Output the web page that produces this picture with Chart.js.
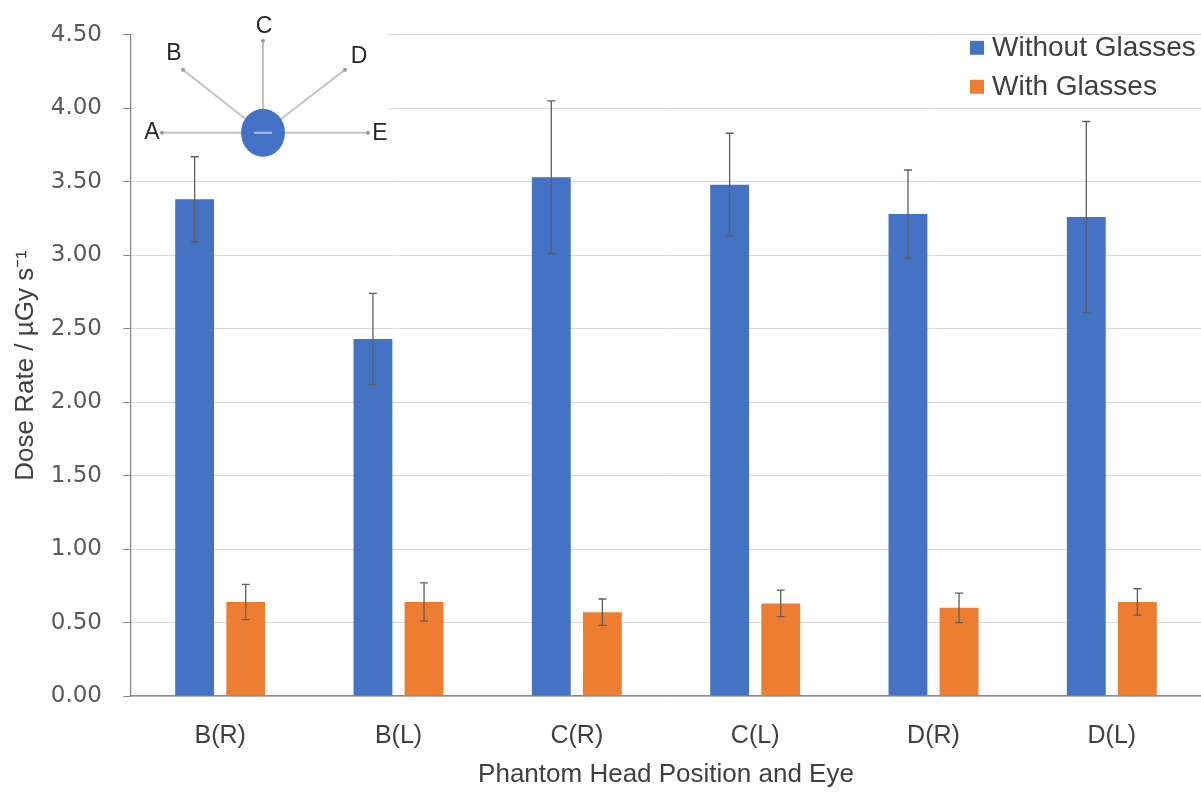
<!DOCTYPE html>
<html>
<head>
<meta charset="utf-8">
<script src="https://cdn.jsdelivr.net/npm/chart.js@4.4.1/dist/chart.umd.min.js"></script>
<style>
  html, body { margin: 0; padding: 0; background: #fff; }
</style>
</head>
<body>
<canvas id="chart" width="1201" height="793"></canvas>
<script>
// categories and readings (dose rate, uGy/s)
const positions = ['B(R)', 'B(L)', 'C(R)', 'C(L)', 'D(R)', 'D(L)'];
const withoutGlasses = [3.38, 2.43, 3.53, 3.48, 3.28, 3.26];
const withoutGlassesErr = [0.29, 0.31, 0.52, 0.35, 0.30, 0.65];
const withGlasses = [0.64, 0.64, 0.57, 0.63, 0.60, 0.64];
const withGlassesErr = [0.12, 0.13, 0.09, 0.09, 0.10, 0.09];
const yTicks = [0, 0.5, 1, 1.5, 2, 2.5, 3, 3.5, 4, 4.5];

const BLUE = '#4472C4';
const ORANGE = '#ED7D31';

// error bars drawn on top of each bar
const errorBars = {
    id: 'errorBars',
    afterDatasetsDraw(chart) {
        const ctx = chart.ctx;
        const y = chart.scales.y;
        ctx.save();
        ctx.strokeStyle = '#5f5f5f';
        ctx.lineWidth = 1.3;
        chart.data.datasets.forEach((ds, di) => {
            const meta = chart.getDatasetMeta(di);
            meta.data.forEach((bar, i) => {
                const v = ds.data[i], e = ds.errors[i];
                const top = y.getPixelForValue(v + e);
                const bot = y.getPixelForValue(v - e);
                ctx.beginPath();
                ctx.moveTo(bar.x, top); ctx.lineTo(bar.x, bot);
                ctx.moveTo(bar.x - 4, top); ctx.lineTo(bar.x + 4, top);
                ctx.moveTo(bar.x - 4, bot); ctx.lineTo(bar.x + 4, bot);
                ctx.stroke();
            });
        });
        ctx.restore();
    }
};

// legend stacked in the top right corner of the plot
const cornerLegend = {
    id: 'cornerLegend',
    afterDraw(chart) {
        const ctx = chart.ctx;
        const x = chart.chartArea.right - 231;
        ctx.save();
        ctx.font = '28px "Liberation Sans"';
        ctx.textBaseline = 'middle';
        chart.data.datasets.forEach((ds, i) => {
            const cy = chart.chartArea.top + 13 + i * 39;
            ctx.fillStyle = ds.backgroundColor;
            ctx.fillRect(x, cy - 7, 14, 14);
            ctx.fillStyle = '#404040';
            ctx.fillText(ds.label, x + 22, cy);
        });
        ctx.restore();
    }
};

// small head-position diagram in the top left corner
const headInset = {
    id: 'headInset',
    beforeDatasetsDraw(chart) {
        const ctx = chart.ctx;
        const ox = chart.chartArea.left, oy = chart.chartArea.top;
        const cx = ox + 132, cy = oy + 98;
        const spokes = [
            { name: 'A', dx: -101, dy: 0, lx: -111, ly: 0 },
            { name: 'B', dx: -80, dy: -63, lx: -89, ly: -79 },
            { name: 'C', dx: 0, dy: -92, lx: 1, ly: -106 },
            { name: 'D', dx: 82, dy: -63, lx: 96, ly: -76 },
            { name: 'E', dx: 105, dy: 0, lx: 117, ly: 1 }
        ];
        ctx.save();
        ctx.fillStyle = '#fff';
        ctx.fillRect(ox + 3, 0, 254, oy + 132);
        ctx.strokeStyle = '#c4c4c4';
        ctx.lineWidth = 2;
        spokes.forEach(s => {
            ctx.beginPath();
            ctx.moveTo(cx, cy);
            ctx.lineTo(cx + s.dx, cy + s.dy);
            ctx.stroke();
            ctx.fillStyle = '#9a9a9a';
            ctx.beginPath();
            ctx.arc(cx + s.dx, cy + s.dy, 2, 0, Math.PI * 2);
            ctx.fill();
        });
        ctx.fillStyle = BLUE;
        ctx.beginPath();
        ctx.ellipse(cx, cy, 22, 24, 0, 0, Math.PI * 2);
        ctx.fill();
        ctx.fillStyle = '#a8bde6';
        ctx.fillRect(cx - 9, cy - 1, 18, 2);
        ctx.fillStyle = '#262626';
        ctx.font = '23px "Liberation Sans"';
        ctx.textAlign = 'center';
        ctx.textBaseline = 'middle';
        spokes.forEach(s => ctx.fillText(s.name, cx + s.lx, cy + s.ly));
        ctx.restore();
    }
};

new Chart(document.getElementById('chart'), {
    type: 'bar',
    data: {
        labels: positions,
        datasets: [{
            label: 'Without Glasses',
            data: withoutGlasses,
            errors: withoutGlassesErr,
            backgroundColor: BLUE,
            categoryPercentage: 0.573,
            barPercentage: 0.76
        }, {
            label: 'With Glasses',
            data: withGlasses,
            errors: withGlassesErr,
            backgroundColor: ORANGE,
            categoryPercentage: 0.573,
            barPercentage: 0.76
        }]
    },
    options: {
        responsive: false,
        animation: false,
        layout: { padding: { top: 34, right: 0, left: 0, bottom: 0 } },
        plugins: {
            legend: { display: false },
            tooltip: { enabled: false }
        },
        scales: {
            x: {
                grid: { display: true, drawOnChartArea: false, drawTicks: false },
                border: { color: '#8c8c8c', width: 1.5 },
                ticks: {
                    color: '#404040',
                    font: { family: 'Liberation Sans', size: 25 },
                    padding: 25
                },
                title: {
                    display: true,
                    text: 'Phantom Head Position and Eye',
                    color: '#404040',
                    font: { family: 'Liberation Sans', size: 26 },
                    padding: { top: 0, bottom: 3 }
                },
                afterFit(scale) { scale.height = 97; }
            },
            y: {
                min: 0,
                max: 4.5,
                afterBuildTicks(scale) { scale.ticks = yTicks.map(v => ({ value: v })); },
                grid: { color: '#d9d9d9', tickColor: '#8c8c8c', tickLength: 8 },
                border: { color: '#7f7f7f', width: 1.2 },
                ticks: {
                    color: '#595959',
                    font: { family: 'DejaVu Sans', size: 23 },
                    padding: 21,
                    callback: v => Number(v).toFixed(2)
                },
                title: {
                    display: true,
                    text: 'Dose Rate / µGy s⁻¹',
                    color: '#404040',
                    font: { family: 'Liberation Sans', size: 26 },
                    padding: { top: 10, bottom: 0 }
                },
                afterFit(scale) { scale.width = 131; }
            }
        }
    },
    plugins: [headInset, errorBars, cornerLegend]
});
</script>
</body>
</html>
